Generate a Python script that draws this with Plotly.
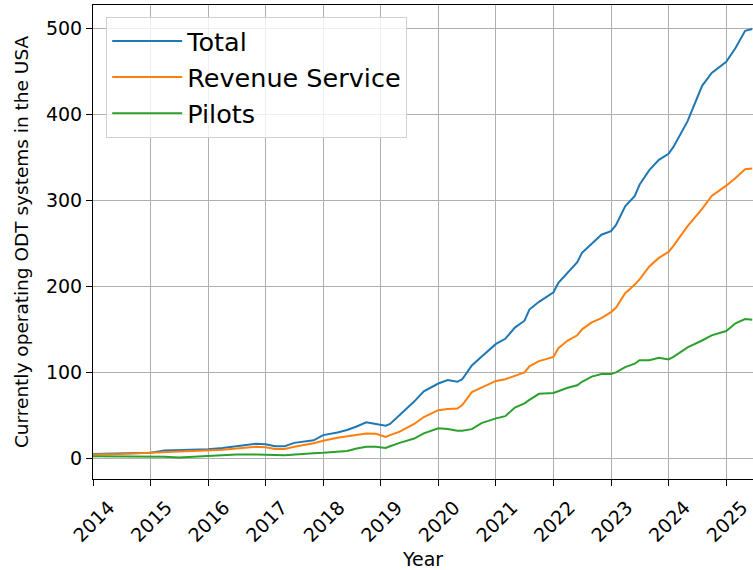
import plotly.graph_objects as go

dates = ["2014-01-01", "2014-07-01", "2015-01-01", "2015-04-01", "2015-07-01", "2015-10-01",
         "2016-01-01", "2016-04-01", "2016-07-01", "2016-11-01", "2017-01-01", "2017-03-01",
         "2017-05-01", "2017-07-01", "2017-11-01", "2018-01-01", "2018-04-01", "2018-06-01",
         "2018-08-01", "2018-10-01", "2018-12-01", "2019-02-01", "2019-03-01", "2019-05-01",
         "2019-08-01", "2019-10-01", "2020-01-01", "2020-03-01", "2020-05-01", "2020-06-01",
         "2020-08-01", "2020-10-01", "2021-01-01", "2021-03-01", "2021-05-01", "2021-07-01",
         "2021-08-01", "2021-10-01", "2022-01-01", "2022-02-01", "2022-04-01", "2022-06-01",
         "2022-07-01", "2022-09-01", "2022-11-01", "2023-01-01", "2023-02-01", "2023-04-01",
         "2023-06-01", "2023-07-01", "2023-09-01", "2023-11-01", "2024-01-01", "2024-02-01",
         "2024-05-01", "2024-08-01", "2024-10-01", "2025-01-01", "2025-03-01", "2025-05-01",
         "2025-06-15"]

total = [5, 5.5, 6.5, 9, 9.5, 10, 10.5, 12, 14, 17, 16.5, 14, 14, 18, 21, 27, 30, 33,
         37, 42, 40, 38, 40, 50, 66, 78, 87, 91, 89, 92, 108, 118, 133, 139, 152, 160,
         173, 182, 193, 204, 216, 228, 239, 250, 260, 264, 271, 293, 305, 318, 335, 347,
         354, 362, 392, 433, 448, 461, 477, 497, 499]

revenue = [4.5, 5, 6.5, 7.5, 8, 8.5, 9, 10, 11.5, 13.5, 13, 11, 11, 13.5, 17.5, 20.5, 24,
           25.5, 27.5, 29, 28.5, 25, 27, 31, 40, 48, 56, 57.5, 58, 62, 77, 82, 90, 92, 96,
           100, 107, 113, 118, 128, 137, 143, 150, 158, 163, 170, 175, 192, 202, 208, 223,
           233, 240, 247, 270, 290, 305, 317, 326, 336, 337]

pilots = [2.5, 2.5, 2.5, 2, 1, 2, 3, 4, 4.5, 4.5, 4.5, 4, 3.5, 4.5, 6, 6.5, 7.5, 8.5,
          11.5, 13.5, 13.5, 12, 14, 18, 23, 29, 35, 34, 32, 32, 34, 41, 46.5, 49, 59, 64,
          68, 75, 76, 78, 82, 85, 89, 95, 98, 98, 100, 106, 110, 114, 114, 117, 115, 118,
          129, 137, 143, 148, 157, 162, 161]

year_ticks = ["2014", "2015", "2016", "2017", "2018", "2019", "2020", "2021", "2022",
              "2023", "2024", "2025"]
y_ticks = [0, 100, 200, 300, 400, 500]

series = [("Total", total, "#1f77b4"),
          ("Revenue Service", revenue, "#ff7f0e"),
          ("Pilots", pilots, "#2ca02c")]

fig = go.Figure()
for name, vals, color in series:
    fig.add_trace(go.Scatter(x=dates, y=vals, mode="lines", name=name,
                             line=dict(color=color, width=2)))

font_family = "DejaVu Sans"
fig.update_layout(
    width=753, height=570,
    margin=dict(l=93, r=0, t=5, b=91, autoexpand=False),
    paper_bgcolor="white", plot_bgcolor="white",
    font=dict(family=font_family, color="black", size=19),
    showlegend=True,
    legend=dict(x=0.02, y=0.975, xanchor="left", yanchor="top",
                bgcolor="rgba(255,255,255,0.8)", bordercolor="#d0d0d0", borderwidth=1,
                font=dict(size=25.5, family=font_family), tracegroupgap=0,
                itemwidth=70),
)
fig.update_xaxes(
    type="date", automargin=False,
    range=["2014-01-01", "2025-06-20"],
    tickvals=[y + "-01-01" for y in year_ticks], ticktext=year_ticks,
    tickangle=-45, tickfont=dict(size=19),
    ticklabelshift=16, ticklabelstandoff=3, ticklabeloverflow="allow",
    showgrid=True, gridcolor="#b0b0b0", gridwidth=1,
    showline=True, linecolor="black", linewidth=1, mirror=True,
    ticks="outside", ticklen=6, tickcolor="black",
    title=dict(text="Year", font=dict(size=19), standoff=18),
)
fig.update_yaxes(
    automargin=False,
    range=[-24, 527],
    tickvals=y_ticks,
    tickfont=dict(size=19),
    showgrid=True, gridcolor="#b0b0b0", gridwidth=1, zeroline=False,
    showline=True, linecolor="black", linewidth=1,
    ticks="outside", ticklen=6, tickcolor="black",
    title=dict(text="Currently operating ODT systems in the USA", font=dict(size=18.5), standoff=12),
)

fig.write_html("out.html", config={"displayModeBar": False},
               post_script="document.body.style.margin='0';document.body.style.overflow='hidden';")
